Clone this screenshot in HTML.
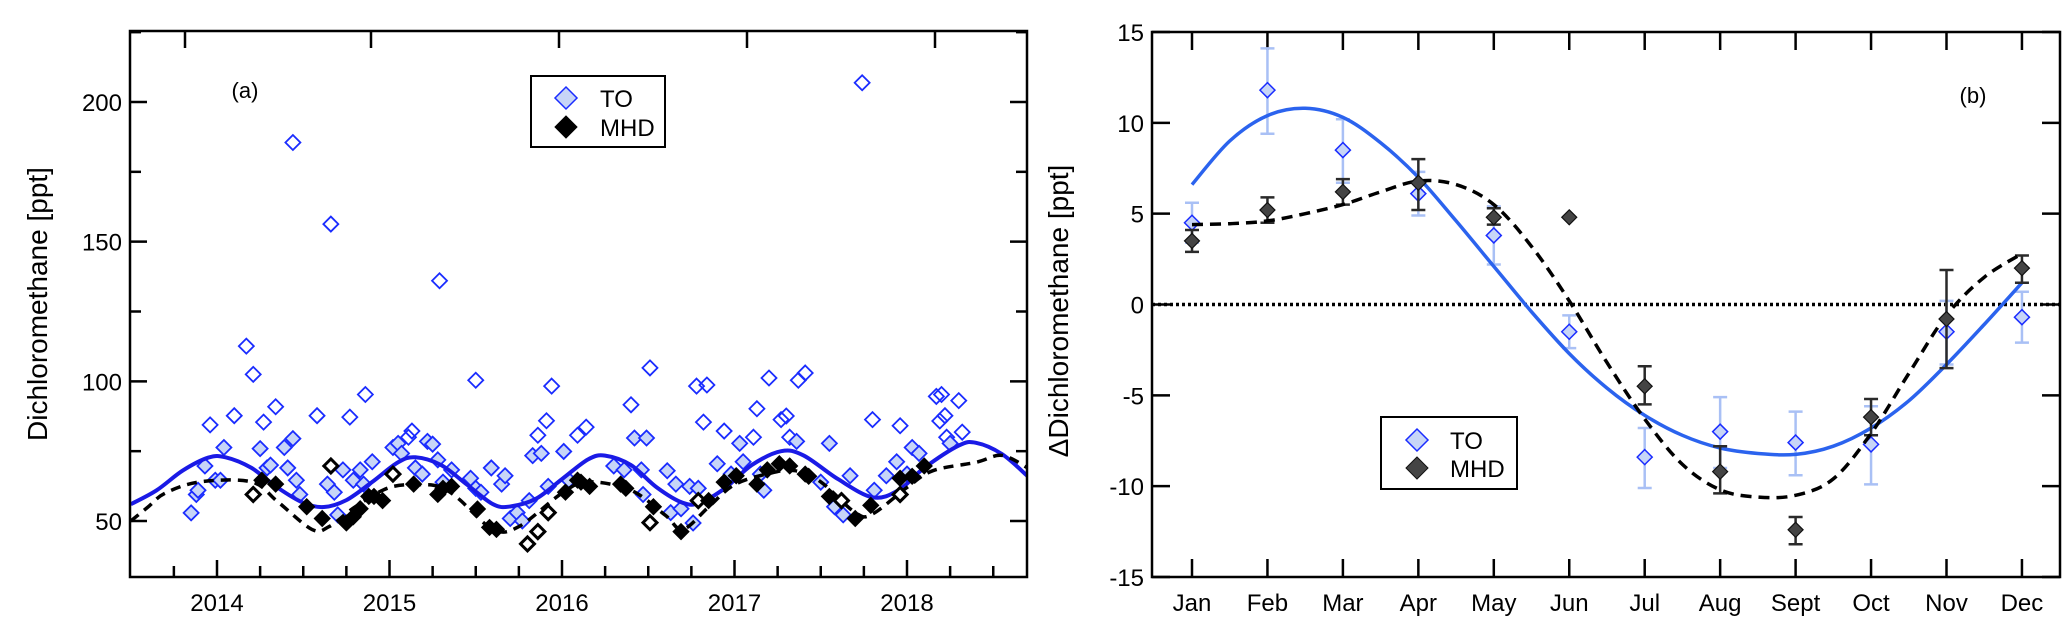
<!DOCTYPE html>
<html><head><meta charset="utf-8">
<style>
html,body{margin:0;padding:0;background:#fff;}
svg{display:block;font-family:"Liberation Sans",Arial,sans-serif;}
</style></head>
<body>
<svg id="chart" width="2067" height="638" viewBox="0 0 2067 638" xmlns="http://www.w3.org/2000/svg">
<rect x="0" y="0" width="2067" height="638" fill="#fff"/>
<g id="pa"></g>
<g id="pb"></g>
</svg>
<script>
// ---------- Panel (a) data ----------
const toYears = [2013.85,2013.88,2013.89,2013.93,2013.96,2013.99,2014.02,2014.04,2014.10,2014.17,2014.21,2014.25,2014.27,2014.29,2014.31,2014.34,2014.39,2014.41,2014.44,2014.46,2014.44,2014.48,2014.58,2014.64,2014.66,2014.68,2014.70,2014.73,2014.77,2014.79,2014.83,2014.86,2014.85,2014.90,2015.02,2015.05,2015.07,2015.11,2015.13,2015.15,2015.19,2015.22,2015.25,2015.28,2015.29,2015.31,2015.36,2015.47,2015.50,2015.50,2015.53,2015.59,2015.65,2015.67,2015.70,2015.74,2015.77,2015.81,2015.83,2015.86,2015.88,2015.91,2015.94,2015.92,2016.01,2016.04,2016.09,2016.14,2016.30,2016.36,2016.40,2016.42,2016.46,2016.47,2016.49,2016.51,2016.61,2016.63,2016.66,2016.69,2016.74,2016.76,2016.78,2016.79,2016.82,2016.84,2016.90,2016.94,2016.98,2017.03,2017.05,2017.11,2017.13,2017.15,2017.17,2017.20,2017.27,2017.30,2017.32,2017.36,2017.37,2017.41,2017.50,2017.55,2017.58,2017.63,2017.67,2017.74,2017.80,2017.81,2017.88,2017.94,2017.96,2018.00,2018.03,2018.07,2018.17,2018.20,2018.19,2018.22,2018.23,2018.25,2018.30,2018.32];
const toValues = [52.9,59.5,61,69.7,84.4,64.6,64.6,76.3,87.7,112.6,102.5,75.9,85.4,69,70,90.9,76.3,69,79.5,64.6,185.5,59.5,87.7,63.2,156.3,60.3,52.2,68.3,87.2,64.6,68.3,95.3,63.2,71.2,76.3,77.8,74.2,80,82.2,69,66.8,78.5,77.5,71.9,136,63.9,68.3,65.3,100.4,61.7,60.3,69,63.2,66.2,50.9,53,50,57.3,73.4,80.7,74.2,85.9,98.3,62.4,74.9,64.6,80.7,83.6,69.7,68.3,91.6,79.7,68.3,59.5,79.7,104.8,68,53,63.2,54.4,62.4,49.3,98.3,61.7,85.4,98.7,70.5,82.2,66.8,77.8,71.2,80,90.2,66.8,61,101.2,86.3,87.6,80,78.5,100.4,103,63.9,77.8,55.1,52.2,66.2,206.9,86.3,61,66.2,71.2,84.1,66.8,76.3,74.2,94.6,95.3,85.8,87.7,80,77.8,93.1,81.8];
const mhdYears = [2014.21,2014.26,2014.34,2014.52,2014.61,2014.66,2014.75,2014.79,2014.83,2014.88,2014.91,2014.96,2015.02,2015.14,2015.28,2015.31,2015.36,2015.51,2015.58,2015.62,2015.80,2015.86,2015.92,2016.02,2016.09,2016.11,2016.16,2016.34,2016.37,2016.51,2016.53,2016.69,2016.79,2016.85,2016.94,2017.01,2017.13,2017.19,2017.26,2017.32,2017.41,2017.43,2017.55,2017.62,2017.70,2017.79,2017.96,2017.96,2018.03,2018.10];
const mhdValues = [59.5,64.6,63.2,55.1,50.9,69.7,49.3,51.5,54.4,58.8,58.8,57.3,66.8,63.2,59.5,61.7,62.4,54.3,47.7,47,41.8,46.2,53,60.3,64.6,63.9,62.4,63.2,61.7,49.4,55.1,46.2,57.3,57.3,63.9,66.2,63.2,68.3,70.5,69.7,66.8,66,58.8,57.3,50.9,55.6,59.5,65.3,66,69.7];
const mhdOpen = [1,0,0,0,0,1,0,0,0,0,0,0,1,0,0,0,0,0,0,0,1,1,1,0,0,0,0,0,0,1,0,0,1,0,0,0,0,0,0,0,0,0,0,1,0,0,1,0,0,0];
const toFitYears = [2013.5,2013.65,2013.8,2013.95,2014.05,2014.2,2014.35,2014.5,2014.62,2014.75,2014.9,2015.05,2015.15,2015.3,2015.45,2015.6,2015.7,2015.85,2016.0,2016.15,2016.25,2016.4,2016.55,2016.7,2016.8,2016.95,2017.1,2017.27,2017.4,2017.6,2017.8,2017.95,2018.1,2018.3,2018.4,2018.55,2018.7];
const toFitValues = [56,61,68,72.7,72.8,69,62,56.5,55,57.5,64,71,72.8,70,63,56,55.2,58,65,72,73.4,70,62,56.5,56.5,62,70,75,73.5,65,58.5,61,69,77,78,74,66];
const mhdFitYears = [2013.5,2013.6,2013.7,2013.9,2014.2,2014.35,2014.55,2014.65,2014.8,2015.0,2015.2,2015.3,2015.4,2015.6,2015.75,2016.0,2016.15,2016.4,2016.6,2016.7,2016.85,2017.0,2017.2,2017.35,2017.5,2017.7,2017.8,2018.0,2018.15,2018.4,2018.55,2018.7];
const mhdFitValues = [50,55,60,64,64,57,47,48,55,62,63,62,58,47,48,60,64,61,52,47,55,63,67,68,64,53,52.5,62,68,71,73.5,69];
const aXTicks = [2014,2015,2016,2017,2018];
const aYTicks = [50,100,150,200];

// ---------- Panel (b) data ----------
const months = ["Jan","Feb","Mar","Apr","May","Jun","Jul","Aug","Sept","Oct","Nov","Dec"];
const toMonthly = [4.5,11.8,8.5,6.1,3.8,-1.5,-8.4,-7.0,-7.6,-7.7,-1.5,-0.7];
const toHi = [5.6,14.1,10.2,7.3,5.4,-0.6,-6.8,-5.1,-5.9,-5.6,0.2,0.7];
const toLo = [3.4,9.4,6.7,4.9,2.2,-2.4,-10.1,-9.0,-9.4,-9.9,-3.3,-2.1];
const mhdMonthly = [3.5,5.2,6.2,6.7,4.8,4.8,-4.5,-9.2,-12.4,-6.2,-0.8,2.0];
const mhdHi = [4.1,5.9,6.9,8.0,5.3,null,-3.4,-7.8,-11.7,-5.2,1.9,2.7];
const mhdLo = [2.9,4.5,5.5,5.2,4.4,null,-5.5,-10.4,-13.2,-7.2,-3.5,1.2];
const bFitX = [0,0.5,1,1.5,2,2.5,3,3.5,4,4.5,5,5.5,6,6.5,7,7.5,8,8.5,9,9.5,10,10.5,11];
const toFitB = [6.6,9.0,10.4,10.8,10.3,8.9,7.0,4.6,2.1,-0.4,-2.7,-4.6,-6.1,-7.2,-7.9,-8.2,-8.25,-7.8,-6.8,-5.3,-3.3,-1.1,1.2];
const mhdFitB = [4.4,4.45,4.6,5.0,5.5,6.2,6.8,6.6,5.5,3.2,0.2,-3.2,-6.3,-8.8,-10.2,-10.6,-10.5,-9.6,-7.1,-3.8,-0.6,1.5,2.8];
const bYTicks = [-15,-10,-5,0,5,10,15];

const NS = "http://www.w3.org/2000/svg";
function mk(parent, tag, attrs, text){
  const e = document.createElementNS(NS, tag);
  for (const k in attrs) e.setAttribute(k, attrs[k]);
  if (text !== undefined) e.textContent = text;
  parent.appendChild(e);
  return e;
}
function smooth(pts){
  let d = "M" + pts[0][0].toFixed(1) + "," + pts[0][1].toFixed(1);
  for (let i=0;i<pts.length-1;i++){
    const p0 = pts[Math.max(0,i-1)], p1 = pts[i], p2 = pts[i+1], p3 = pts[Math.min(pts.length-1,i+2)];
    const c1x = p1[0]+(p2[0]-p0[0])/6, c1y = p1[1]+(p2[1]-p0[1])/6;
    const c2x = p2[0]-(p3[0]-p1[0])/6, c2y = p2[1]-(p3[1]-p1[1])/6;
    d += " C"+c1x.toFixed(1)+","+c1y.toFixed(1)+" "+c2x.toFixed(1)+","+c2y.toFixed(1)+" "+p2[0].toFixed(1)+","+p2[1].toFixed(1);
  }
  return d;
}
function diamond(cx, cy, r){
  return "M"+cx+","+(cy-r)+" L"+(cx+r)+","+cy+" L"+cx+","+(cy+r)+" L"+(cx-r)+","+cy+" Z";
}

// ================= Panel A =================
(function(){
  const g = document.getElementById("pa");
  const L=130, R=1027, T=31, B=577;
  const xA = yr => 217 + (yr-2014)*172.5;
  const yA = v => 102 + (200-v)*(419/150);
  const clip = mk(g,"clipPath",{id:"clipA"});
  mk(clip,"rect",{x:L,y:T,width:R-L,height:B-T});

  // ticks
  const tk = mk(g,"g",{stroke:"#000","stroke-width":2.5});
  
  
  for (let q=2013.5; q<=2018.75; q+=0.25){
    const x = xA(q); if (x<L+2||x>R-2) continue;
    const major = Math.abs(q-Math.round(q))<1e-6;
    mk(tk,"line",{x1:x,y1:B,x2:x,y2:B-(major?17:11)});
  }
  const topTicks = [185,371,559,747,935];
  topTicks.forEach(x=>mk(tk,"line",{x1:x,y1:T,x2:x,y2:T+17}));
  for (let v=50; v<=225; v+=25){
    const y=yA(v); const major = v%50===0;
    mk(tk,"line",{x1:L,y1:y,x2:L+(major?17:11),y2:y});
    mk(tk,"line",{x1:R,y1:y,x2:R-(major?17:11),y2:y});
  }
  aXTicks.forEach(t=>{
    const e = mk(g,"text",{x:xA(t),y:611,"text-anchor":"middle","font-size":24,fill:"#000"},String(t));
    
    
  });
  aYTicks.forEach(t=>{
    const e = mk(g,"text",{x:L-8,y:yA(t)+9,"text-anchor":"end","font-size":24,fill:"#000"},String(t));
    
    
  });
  const yl = mk(g,"text",{x:0,y:0,transform:"translate(47,304) rotate(-90)","text-anchor":"middle","font-size":28,fill:"#000"},"Dichloromethane [ppt]");
  
  

  const plot = mk(g,"g",{"clip-path":"url(#clipA)"});
  // TO points
  for (let i=0;i<toYears.length;i++){
    const p = mk(plot,"path",{d:diamond(xA(toYears[i]),yA(toValues[i]),7.5),fill:toValues[i]<80?"#c7d5f7":"none",stroke:"#1a2cff","stroke-width":1.8});
    
    
  }
  // fits
  const tf = mk(plot,"path",{d:smooth(toFitYears.map((t,i)=>[xA(t),yA(toFitValues[i])])),fill:"none",stroke:"#1a1ae6","stroke-width":4});
  
  
  const mf = mk(plot,"path",{d:smooth(mhdFitYears.map((t,i)=>[xA(t),yA(mhdFitValues[i])])),fill:"none",stroke:"#000","stroke-width":3.5,"stroke-dasharray":"10,7"});
  
  
  // MHD points
  for (let i=0;i<mhdYears.length;i++){
    const open = mhdOpen[i]===1;
    const p = mk(plot,"path",{d:diamond(xA(mhdYears[i]),yA(mhdValues[i]),open?7:8),fill:open?"#fff":"#000",stroke:"#000","stroke-width":open?3:1});
    
    
  }
  mk(g,"rect",{x:L,y:T,width:R-L,height:B-T,fill:"none",stroke:"#000","stroke-width":2.5});
  const pl = mk(g,"text",{x:245,y:98,"text-anchor":"middle","font-size":22,fill:"#000"},"(a)");
  
  
  // legend
  const lg = mk(g,"g",{});
  
  
  mk(lg,"rect",{x:531,y:76,width:134,height:71,fill:"#fff",stroke:"#000","stroke-width":2});
  mk(lg,"path",{d:diamond(566,98,11),fill:"#c7d5f7",stroke:"#1a2cff","stroke-width":1.5});
  mk(lg,"text",{x:600,y:107,"font-size":24,fill:"#000"},"TO");
  mk(lg,"path",{d:diamond(566,127,11),fill:"#000",stroke:"#000","stroke-width":1});
  mk(lg,"text",{x:600,y:136,"font-size":24,fill:"#000"},"MHD");
})();

// ================= Panel B =================
(function(){
  const g = document.getElementById("pb");
  const L=1152, R=2060, T=32, B=577;
  const xB = m => 1192 + m*75.45;
  const yB = v => T + (15-v)*((B-T)/30);
  const clip = mk(g,"clipPath",{id:"clipB"});
  mk(clip,"rect",{x:L,y:T,width:R-L,height:B-T});
  const tk = mk(g,"g",{stroke:"#000","stroke-width":2.5});
  
  
  months.forEach((m,i)=>{
    mk(tk,"line",{x1:xB(i),y1:B,x2:xB(i),y2:B-18});
    mk(tk,"line",{x1:xB(i),y1:T,x2:xB(i),y2:T+18});
    const e = mk(g,"text",{x:xB(i),y:611,"text-anchor":"middle","font-size":24,fill:"#000"},m);
    
    
  });
  bYTicks.forEach(t=>{
    mk(tk,"line",{x1:L,y1:yB(t),x2:L+18,y2:yB(t)});
    mk(tk,"line",{x1:R,y1:yB(t),x2:R-18,y2:yB(t)});
    const e = mk(g,"text",{x:L-8,y:yB(t)+9,"text-anchor":"end","font-size":24,fill:"#000"},String(t));
    
    
  });
  const yl = mk(g,"text",{x:0,y:0,transform:"translate(1068,311) rotate(-90)","text-anchor":"middle","font-size":28,fill:"#000"},"\u0394Dichloromethane [ppt]");
  
  
  const plot = mk(g,"g",{"clip-path":"url(#clipB)"});
  const zl = mk(plot,"line",{x1:L,y1:yB(0),x2:R,y2:yB(0),stroke:"#000","stroke-width":3.5,"stroke-dasharray":"3,3"});
  
  
  // TO error bars + points
  months.forEach((m,i)=>{
    const x=xB(i);
    const eb = mk(plot,"path",{d:"M"+x+","+yB(toHi[i])+" V"+yB(toLo[i])+" M"+(x-7)+","+yB(toHi[i])+" h14 M"+(x-7)+","+yB(toLo[i])+" h14",stroke:"#a9c0f5","stroke-width":2.5,fill:"none"});
    
    
  });
  const tf = mk(plot,"path",{d:smooth(bFitX.map((m,i)=>[xB(m),yB(toFitB[i])])),fill:"none",stroke:"#2b63ee","stroke-width":3.5});
  
  
  months.forEach((m,i)=>{
    const p = mk(plot,"path",{d:diamond(xB(i),yB(toMonthly[i]),7.5),fill:"#c7d5f7",stroke:"#1a2cff","stroke-width":1.5});
    
    
  });
  months.forEach((m,i)=>{
    if (mhdHi[i]===null) return;
    const x=xB(i);
    const eb = mk(plot,"path",{d:"M"+x+","+yB(mhdHi[i])+" V"+yB(mhdLo[i])+" M"+(x-7)+","+yB(mhdHi[i])+" h14 M"+(x-7)+","+yB(mhdLo[i])+" h14",stroke:"#2a2a2a","stroke-width":2.5,fill:"none"});
    
    
  });
  const mf = mk(plot,"path",{d:smooth(bFitX.map((m,i)=>[xB(m),yB(mhdFitB[i])])),fill:"none",stroke:"#000","stroke-width":3.5,"stroke-dasharray":"11,7"});
  
  
  months.forEach((m,i)=>{
    const p = mk(plot,"path",{d:diamond(xB(i),yB(mhdMonthly[i]),7.5),fill:"#444",stroke:"#111","stroke-width":1.2});
    
    
  });
  mk(g,"rect",{x:L,y:T,width:R-L,height:B-T,fill:"none",stroke:"#000","stroke-width":2.5});
  const pl = mk(g,"text",{x:1973,y:103,"text-anchor":"middle","font-size":22,fill:"#000"},"(b)");
  
  
  const lg = mk(g,"g",{});
  
  
  mk(lg,"rect",{x:1381,y:417,width:136,height:72,fill:"#fff",stroke:"#000","stroke-width":2});
  mk(lg,"path",{d:diamond(1417,440,11),fill:"#c7d5f7",stroke:"#1a2cff","stroke-width":1.5});
  mk(lg,"text",{x:1450,y:449,"font-size":24,fill:"#000"},"TO");
  mk(lg,"path",{d:diamond(1417,468,11),fill:"#444",stroke:"#111","stroke-width":1});
  mk(lg,"text",{x:1450,y:477,"font-size":24,fill:"#000"},"MHD");
})();
</script>
</body></html>
